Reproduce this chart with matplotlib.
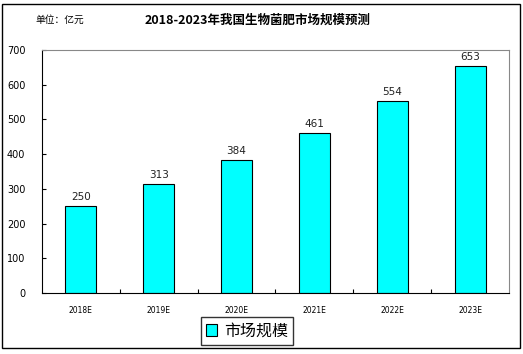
import matplotlib
matplotlib.use("Agg")
import matplotlib.pyplot as plt
from matplotlib.patches import Rectangle

plt.rcParams['font.family'] = ['Noto Sans CJK SC', 'DejaVu Sans']

categories = ["2018E", "2019E", "2020E", "2021E", "2022E", "2023E"]
values = [250, 313, 384, 461, 554, 653]
yticks = [0, 100, 200, 300, 400, 500, 600, 700]

fig = plt.figure(figsize=(5.23, 3.54), dpi=100)
fig.patches.append(Rectangle((2/523, 1-348/354), 518/523, 344/354, transform=fig.transFigure,
                             fill=False, edgecolor='black', linewidth=1.0))
ax = fig.add_axes([42/523, 1-293/354, (509-42)/523, (293-50)/354])

x = list(range(len(categories)))
ax.bar(x, values, width=0.4, color='#00FFFF', edgecolor='black', linewidth=0.8, label='市场规模')
for xi, v in zip(x, values):
    ax.text(xi, v + 12, str(v), ha='center', va='bottom', fontsize=7.5, family='DejaVu Sans',
            color='#222222')

ax.set_xlim(-0.5, len(categories) - 0.5)
ax.set_ylim(0, 700)
ax.set_yticks(yticks)
ax.set_yticklabels([str(t) for t in yticks], fontsize=7, family='DejaVu Sans')
ax.tick_params(axis='y', direction='in', length=3, pad=12)
ax.set_xticks([i + 0.5 for i in range(len(categories) - 1)])
ax.set_xticklabels([])
ax.tick_params(axis='x', direction='in', length=3)
for xi, c in zip(x, categories):
    ax.text(xi, -0.055, c, transform=ax.get_xaxis_transform(), ha='center', va='top',
            fontsize=5.5, family='DejaVu Sans')
for s in ['top', 'right']:
    ax.spines[s].set_color('#888888')
for s in ['left', 'bottom']:
    ax.spines[s].set_color('black')

fig.text(35/523, 1-20/354, '单位：亿元', fontsize=7, va='center', ha='left')
fig.text(258/523, 1-20/354, '2018-2023年我国生物菌肥市场规模预测', fontsize=9, va='center',
         ha='center', fontweight='bold')

leg = fig.legend(loc='center', bbox_to_anchor=(247/523, 1-331/354), fontsize=11.5,
                 frameon=True, fancybox=False, edgecolor='black', handlelength=0.7,
                 handleheight=0.7, handletextpad=0.4, borderpad=0.35, borderaxespad=0)
leg.get_frame().set_linewidth(1.0)

fig.savefig('out.png', dpi=100)
